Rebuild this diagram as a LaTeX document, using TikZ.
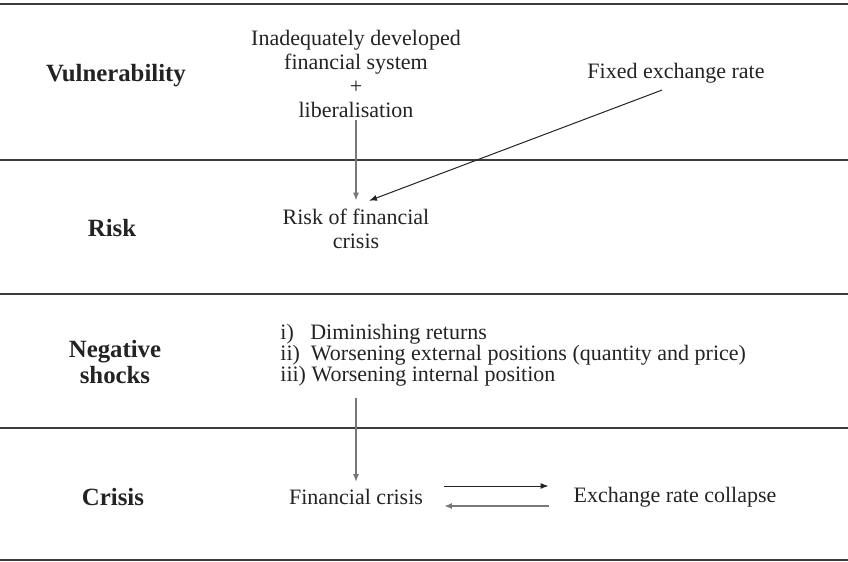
\documentclass[tikz,border=0pt]{standalone}
\usepackage{fontspec}
\setmainfont{Liberation Serif}
\usepackage{tikz}
\usetikzlibrary{arrows.meta}
\definecolor{inkgray}{RGB}{35, 35, 35}
\definecolor{rulegray}{RGB}{60, 60, 60}
\definecolor{linegray}{RGB}{120, 120, 120}

\begin{document}
\begin{tikzpicture}[x=0.5pt, y=-0.5pt, every node/.style={font=\fontsize{11}{12}\selectfont, text=inkgray},
  rowlabel/.style={font=\fontsize{12.4}{13}\selectfont\bfseries, align=center},
  arr/.style={-{Latex[length=4pt, width=3pt]}, inkgray, line width=0.5pt},
  arrg/.style={arr, linegray, line width=0.8pt}]
  \useasboundingbox (0,0) rectangle (848,562);
  \foreach \y in {4,160,294,428,560} \draw[rulegray, line width=0.8pt] (0,\y) -- (848,\y);
  \node[rowlabel] (vul) at (116,76) {Vulnerability};
  \node[rowlabel] (rsk) at (112,228) {Risk};
  \node[rowlabel] (neg) at (115,362) {Negative\\shocks};
  \node[rowlabel] (cri) at (113,497) {Crisis};
  \node[align=center, inner sep=1pt] (fsys) at (356,74) {Inadequately developed\\financial system\\+\\liberalisation};
  \node (fix) at (676,73) {Fixed exchange rate};
  \node[align=center, inner sep=4pt] (rc) at (356,229) {Risk of financial\\crisis};
  \node[align=left, anchor=west, inner sep=2pt, font=\fontsize{11}{10.4}\selectfont] (shk) at (276,355) {i)\ \ \ Diminishing returns\\ii)\ \ Worsening external positions (quantity and price)\\iii) Worsening internal position};
  \node (fc) at (356,497) {Financial crisis};
  \node (erc) at (675,497) {Exchange rate collapse};
  \draw[arrg] (fsys.south) -- (rc.north);
  \draw[arr] ([xshift=-7pt]fix.south) -- ([xshift=6.5pt]rc.north);
  \draw[arrg] ([yshift=-4pt]shk.south -| fc.north) -- (fc.north);
  \draw[arr] ([shift={(7pt,5.5pt)}]fc.east) -- ([shift={(-9pt,5.5pt)}]erc.west);
  \draw[arrg] ([shift={(-9pt,-4.5pt)}]erc.west) -- ([shift={(7pt,-4.5pt)}]fc.east);
\end{tikzpicture}
\end{document}
